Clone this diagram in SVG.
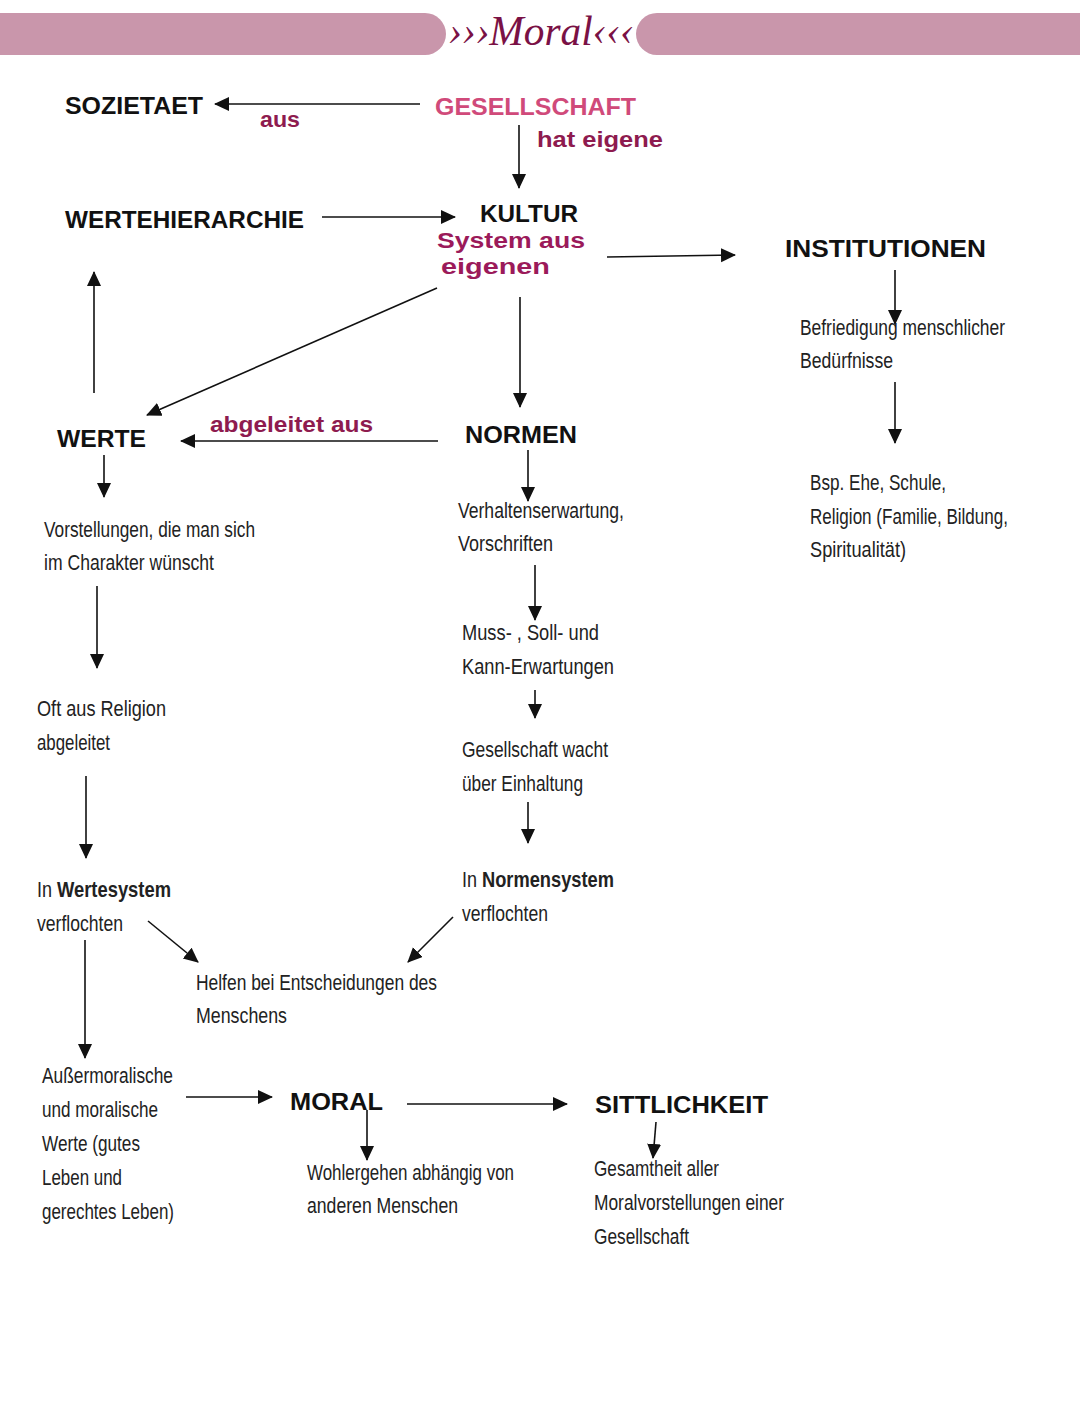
<svg xmlns="http://www.w3.org/2000/svg" width="1080" height="1417" viewBox="0 0 1080 1417">
<style>
.h{font-family:"Liberation Sans",Arial,sans-serif;font-weight:bold;font-size:24px;fill:#111}
.t{font-family:"Liberation Sans",Arial,sans-serif;font-size:22px;fill:#222}
.b{font-family:"Liberation Sans",Arial,sans-serif;font-weight:bold;font-size:22px;fill:#222}
.p{font-family:"Liberation Sans",Arial,sans-serif;font-weight:bold;font-size:22px;fill:#8e1b4f}
.c{stroke:#111;stroke-width:1.6;fill:none;marker-end:url(#a)}
</style>
<defs>
<marker id="a" markerUnits="userSpaceOnUse" markerWidth="16" markerHeight="16" refX="14" refY="7" orient="auto">
<path d="M0,0 L15,7 L0,14 Z" fill="#111"/>
</marker>
</defs>
<rect width="1080" height="1417" fill="#fff"/>
<g id="header">
<rect x="-30" y="13" width="476" height="42" rx="21" fill="#c996ab"/>
<rect x="636" y="13" width="480" height="42" rx="21" fill="#c996ab"/>
<text x="541" y="45" text-anchor="middle" font-family="Liberation Serif,serif" font-style="italic" font-size="42" fill="#7a1145" textLength="186" lengthAdjust="spacingAndGlyphs">›››Moral‹‹‹</text>
</g>
<g id="connectors">
<line class="c" x1="420" y1="104" x2="215" y2="104"/>
<line class="c" x1="519" y1="125" x2="519" y2="188"/>
<line class="c" x1="322" y1="217" x2="455" y2="217"/>
<line class="c" x1="607" y1="257" x2="735" y2="255"/>
<line class="c" x1="895" y1="270" x2="895" y2="324"/>
<line class="c" x1="895" y1="382" x2="895" y2="443"/>
<line class="c" x1="437" y1="288" x2="147" y2="415"/>
<line class="c" x1="94" y1="393" x2="94" y2="272"/>
<line class="c" x1="520" y1="297" x2="520" y2="407"/>
<line class="c" x1="438" y1="441" x2="181" y2="441"/>
<line class="c" x1="104" y1="455" x2="104" y2="497"/>
<line class="c" x1="528" y1="450" x2="528" y2="501"/>
<line class="c" x1="535" y1="565" x2="535" y2="620"/>
<line class="c" x1="97" y1="586" x2="97" y2="668"/>
<line class="c" x1="535" y1="690" x2="535" y2="718"/>
<line class="c" x1="528" y1="802" x2="528" y2="843"/>
<line class="c" x1="86" y1="776" x2="86" y2="858"/>
<line class="c" x1="148" y1="921" x2="198" y2="962"/>
<line class="c" x1="453" y1="917" x2="408" y2="962"/>
<line class="c" x1="85" y1="940" x2="85" y2="1058"/>
<line class="c" x1="186" y1="1097" x2="272" y2="1097"/>
<line class="c" x1="407" y1="1104" x2="567" y2="1104"/>
<line class="c" x1="367" y1="1110" x2="367" y2="1160"/>
<line class="c" x1="656" y1="1122" x2="653" y2="1158"/>
</g>
<g id="labels">
<text class="p" x="260" y="127" textLength="40" lengthAdjust="spacingAndGlyphs">aus</text>
<text class="p" x="537" y="147" textLength="126" lengthAdjust="spacingAndGlyphs">hat eigene</text>
<text class="p" x="210" y="432" textLength="163" lengthAdjust="spacingAndGlyphs">abgeleitet aus</text>
</g>
<g id="sozietaet"><text class="h" x="65" y="114" textLength="138" lengthAdjust="spacingAndGlyphs">SOZIETAET</text></g>
<g id="gesellschaft"><text class="h" x="435" y="115" style="fill:#d04a7a" textLength="201" lengthAdjust="spacingAndGlyphs">GESELLSCHAFT</text></g>
<g id="wertehierarchie"><text class="h" x="65" y="228" textLength="239" lengthAdjust="spacingAndGlyphs">WERTEHIERARCHIE</text></g>
<g id="kultur">
<text class="h" x="480" y="222" textLength="98" lengthAdjust="spacingAndGlyphs">KULTUR</text>
<text class="p" x="437" y="248" style="fill:#9b1a5a" textLength="148" lengthAdjust="spacingAndGlyphs">System aus</text>
<text class="p" x="441" y="274" style="fill:#9b1a5a" textLength="109" lengthAdjust="spacingAndGlyphs">eigenen</text>
</g>
<g id="institutionen"><text class="h" x="785" y="257" textLength="201" lengthAdjust="spacingAndGlyphs">INSTITUTIONEN</text></g>
<g id="befriedigung">
<text class="t" x="800" y="335" textLength="205" lengthAdjust="spacingAndGlyphs">Befriedigung menschlicher</text>
<text class="t" x="800" y="368" textLength="93" lengthAdjust="spacingAndGlyphs">Bedürfnisse</text>
</g>
<g id="beispiele">
<text class="t" x="810" y="490" textLength="136" lengthAdjust="spacingAndGlyphs">Bsp. Ehe, Schule,</text>
<text class="t" x="810" y="524" textLength="198" lengthAdjust="spacingAndGlyphs">Religion (Familie, Bildung,</text>
<text class="t" x="810" y="557" textLength="96" lengthAdjust="spacingAndGlyphs">Spiritualität)</text>
</g>
<g id="werte"><text class="h" x="57" y="447" textLength="89" lengthAdjust="spacingAndGlyphs">WERTE</text></g>
<g id="normen"><text class="h" x="465" y="443" textLength="112" lengthAdjust="spacingAndGlyphs">NORMEN</text></g>
<g id="vorstellungen">
<text class="t" x="44" y="537" textLength="211" lengthAdjust="spacingAndGlyphs">Vorstellungen, die man sich</text>
<text class="t" x="44" y="570" textLength="170" lengthAdjust="spacingAndGlyphs">im Charakter wünscht</text>
</g>
<g id="verhaltenserwartung">
<text class="t" x="458" y="518" textLength="166" lengthAdjust="spacingAndGlyphs">Verhaltenserwartung,</text>
<text class="t" x="458" y="551" textLength="95" lengthAdjust="spacingAndGlyphs">Vorschriften</text>
</g>
<g id="erwartungen">
<text class="t" x="462" y="640" textLength="137" lengthAdjust="spacingAndGlyphs">Muss- , Soll- und</text>
<text class="t" x="462" y="674" textLength="152" lengthAdjust="spacingAndGlyphs">Kann-Erwartungen</text>
</g>
<g id="religion">
<text class="t" x="37" y="716" textLength="129" lengthAdjust="spacingAndGlyphs">Oft aus Religion</text>
<text class="t" x="37" y="750" textLength="73" lengthAdjust="spacingAndGlyphs">abgeleitet</text>
</g>
<g id="wacht">
<text class="t" x="462" y="757" textLength="146" lengthAdjust="spacingAndGlyphs">Gesellschaft wacht</text>
<text class="t" x="462" y="791" textLength="121" lengthAdjust="spacingAndGlyphs">über Einhaltung</text>
</g>
<g id="normensystem">
<text class="t" x="462" y="887" textLength="15" lengthAdjust="spacingAndGlyphs">In</text>
<text class="b" x="482" y="887" textLength="132" lengthAdjust="spacingAndGlyphs">Normensystem</text>
<text class="t" x="462" y="921" textLength="86" lengthAdjust="spacingAndGlyphs">verflochten</text>
</g>
<g id="wertesystem">
<text class="t" x="37" y="897" textLength="15" lengthAdjust="spacingAndGlyphs">In</text>
<text class="b" x="57" y="897" textLength="114" lengthAdjust="spacingAndGlyphs">Wertesystem</text>
<text class="t" x="37" y="931" textLength="86" lengthAdjust="spacingAndGlyphs">verflochten</text>
</g>
<g id="entscheidungen">
<text class="t" x="196" y="990" textLength="241" lengthAdjust="spacingAndGlyphs">Helfen bei Entscheidungen des</text>
<text class="t" x="196" y="1023" textLength="91" lengthAdjust="spacingAndGlyphs">Menschens</text>
</g>
<g id="aussermoralisch">
<text class="t" x="42" y="1083" textLength="131" lengthAdjust="spacingAndGlyphs">Außermoralische</text>
<text class="t" x="42" y="1117" textLength="116" lengthAdjust="spacingAndGlyphs">und moralische</text>
<text class="t" x="42" y="1151" textLength="98" lengthAdjust="spacingAndGlyphs">Werte (gutes</text>
<text class="t" x="42" y="1185" textLength="80" lengthAdjust="spacingAndGlyphs">Leben und</text>
<text class="t" x="42" y="1219" textLength="132" lengthAdjust="spacingAndGlyphs">gerechtes Leben)</text>
</g>
<g id="moral"><text class="h" x="290" y="1110" textLength="93" lengthAdjust="spacingAndGlyphs">MORAL</text></g>
<g id="sittlichkeit"><text class="h" x="595" y="1113" textLength="173" lengthAdjust="spacingAndGlyphs">SITTLICHKEIT</text></g>
<g id="wohlergehen">
<text class="t" x="307" y="1180" textLength="207" lengthAdjust="spacingAndGlyphs">Wohlergehen abhängig von</text>
<text class="t" x="307" y="1213" textLength="151" lengthAdjust="spacingAndGlyphs">anderen Menschen</text>
</g>
<g id="gesamtheit">
<text class="t" x="594" y="1176" textLength="125" lengthAdjust="spacingAndGlyphs">Gesamtheit aller</text>
<text class="t" x="594" y="1210" textLength="190" lengthAdjust="spacingAndGlyphs">Moralvorstellungen einer</text>
<text class="t" x="594" y="1244" textLength="95" lengthAdjust="spacingAndGlyphs">Gesellschaft</text>
</g>
</svg>
